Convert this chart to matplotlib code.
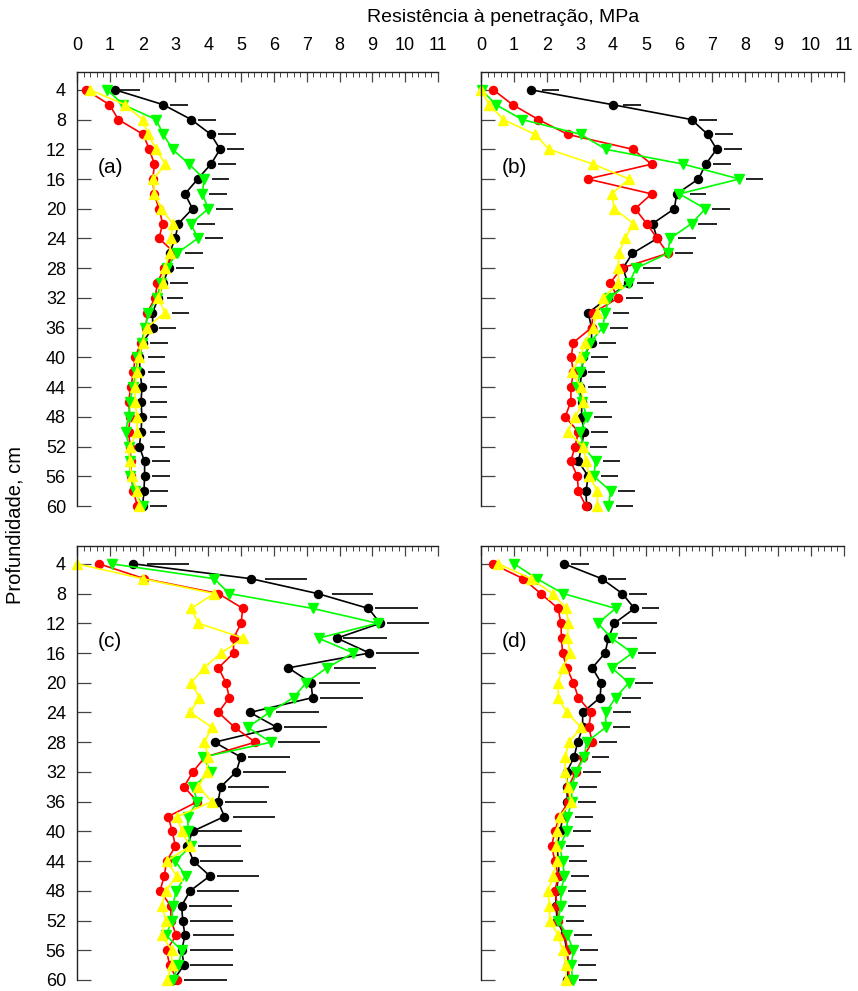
import numpy as np
import matplotlib
matplotlib.use("Agg")
import matplotlib.pyplot as plt
from matplotlib.ticker import MultipleLocator

plt.rcParams['font.family'] = ['Liberation Sans', 'DejaVu Sans']

depths = [4, 6, 8, 10, 12, 14, 16, 18, 20, 22, 24, 26, 28, 30, 32,
          34, 36, 38, 40, 42, 44, 46, 48, 50, 52, 54, 56, 58, 60]
xticks = [0, 1, 2, 3, 4, 5, 6, 7, 8, 9, 10, 11]
yticks = [4, 8, 12, 16, 20, 24, 28, 32, 36, 40, 44, 48, 52, 56, 60]
title = "Resistência à penetração, MPa"
ylabel = "Profundidade, cm"
panel_labels = ["(a)", "(b)", "(c)", "(d)"]

# ---- panel (a)
a_black = [1.16, 2.63, 3.48, 4.08, 4.36, 4.08, 3.68, 3.29, 3.52, 3.09, 2.99, 2.82, 2.80, 2.62, 2.48,
           2.30, 2.31, 2.00, 1.90, 1.92, 1.98, 1.95, 1.98, 1.95, 1.90, 2.06, 2.06, 2.04, 2.00]
a_red = [0.27, 0.99, 1.26, 2.02, 2.20, 2.36, 2.31, 2.35, 2.50, 2.61, 2.50, 2.99, 2.65, 2.45, 2.38,
         2.14, 2.10, 1.95, 1.77, 1.72, 1.64, 1.57, 1.62, 1.57, 1.62, 1.64, 1.65, 1.72, 1.84]
a_yellow = [0.40, 1.46, 2.00, 2.17, 2.41, 2.69, 2.33, 2.36, 2.56, 2.92, 2.87, 2.82, 2.68, 2.61, 2.48,
            2.68, 2.12, 2.00, 1.89, 1.82, 1.77, 1.77, 1.82, 1.84, 1.60, 1.60, 1.67, 1.84, 1.90]
a_green = [0.92, 1.41, 2.41, 2.63, 2.91, 3.42, 3.87, 3.82, 4.00, 3.47, 3.68, 3.04, 2.73, 2.55, 2.43,
           2.17, 2.08, 1.97, 1.84, 1.80, 1.70, 1.62, 1.57, 1.48, 1.59, 1.61, 1.63, 1.76, 2.00]
a_bar_lo = [1.31, 2.84, 3.70, 4.31, 4.56, 4.31, 4.11, 4.02, 4.23, 3.67, 3.90, 3.29, 3.02, 2.84, 2.73,
            2.90, 2.49, 2.23, 2.17, 2.17, 2.21, 2.21, 2.21, 2.21, 2.21, 2.29, 2.29, 2.23, 2.21]
a_bar_hi = [1.92, 3.39, 4.24, 4.84, 5.10, 4.84, 4.64, 4.56, 4.75, 4.21, 4.44, 3.83, 3.55, 3.37, 3.24,
            3.42, 3.02, 2.76, 2.69, 2.69, 2.73, 2.73, 2.73, 2.69, 2.69, 2.82, 2.82, 2.78, 2.73]

# ---- panel (b)
b_black = [1.52, 3.99, 6.38, 6.87, 7.14, 6.81, 6.59, 5.93, 5.86, 5.20, 5.34, 4.59, 4.30, 4.45, 3.85,
           3.25, 3.35, 3.35, 3.10, 3.05, 3.00, 3.05, 3.05, 3.12, 3.05, 2.95, 3.25, 3.18, 3.20]
b_red = [0.37, 0.96, 1.74, 2.63, 4.60, 5.17, 3.23, 5.17, 4.67, 5.02, 5.34, 5.66, 4.26, 3.91, 4.16,
         3.40, 3.35, 2.80, 2.73, 2.80, 2.73, 2.72, 2.55, 2.95, 2.85, 2.72, 2.92, 2.95, 3.18]
b_yellow = [0.00, 0.25, 0.68, 1.64, 2.06, 3.40, 4.49, 3.96, 4.04, 4.62, 4.36, 4.18, 4.16, 4.16, 3.71,
            3.50, 3.40, 3.15, 3.00, 2.75, 3.03, 3.10, 2.85, 2.63, 3.10, 3.18, 3.28, 3.53, 3.53]
b_green = [0.02, 0.45, 1.25, 3.03, 3.78, 6.13, 7.83, 6.01, 6.80, 6.38, 5.73, 5.66, 4.70, 4.49, 3.88,
           3.76, 3.69, 3.30, 3.12, 3.00, 2.92, 3.05, 3.22, 3.00, 3.10, 3.47, 3.42, 3.93, 3.86]
b_bar_lo = [1.84, 4.31, 6.62, 7.09, 7.37, 7.04, 8.03, 6.33, 7.01, 6.59, 5.98, 5.88, 4.92, 4.72, 4.39,
            3.99, 3.91, 3.58, 3.33, 3.23, 3.25, 3.30, 3.43, 3.33, 3.30, 3.69, 3.64, 4.14, 4.08]
b_bar_hi = [2.37, 4.85, 7.14, 7.63, 7.91, 7.58, 8.56, 6.81, 7.55, 7.14, 6.52, 6.41, 5.45, 5.25, 4.92,
            4.49, 4.44, 4.09, 3.86, 3.76, 3.78, 3.83, 3.96, 3.86, 3.83, 4.21, 4.16, 4.67, 4.62]

# ---- panel (c)
c_black = [1.72, 5.30, 7.33, 8.88, 9.24, 7.92, 8.91, 6.44, 7.13, 7.18, 5.27, 6.09, 4.19, 4.99, 4.85,
           4.38, 4.30, 4.49, 3.52, 3.36, 3.55, 4.05, 3.45, 3.19, 3.22, 3.29, 3.19, 3.26, 2.94]
c_red = [0.67, 2.05, 4.31, 5.05, 5.00, 4.77, 4.77, 4.31, 4.54, 4.64, 4.31, 4.80, 5.43, 3.90, 3.53,
         3.26, 3.67, 2.78, 2.90, 3.00, 2.73, 2.66, 2.53, 2.85, 2.87, 3.02, 2.73, 2.82, 3.06]
c_yellow = [0.00, 2.00, 4.18, 3.48, 3.70, 5.07, 4.39, 3.87, 3.48, 3.73, 3.45, 4.11, 3.88, 4.00, 3.95,
            3.70, 4.11, 3.06, 3.19, 3.44, 2.73, 3.04, 2.71, 2.58, 2.71, 2.58, 2.89, 2.89, 2.75]
c_green = [1.06, 4.18, 4.64, 7.18, 9.16, 7.36, 8.42, 7.61, 6.98, 6.60, 5.86, 5.20, 5.91, 3.85, 4.08,
           3.53, 3.67, 3.37, 3.39, 3.47, 3.00, 3.31, 3.02, 2.92, 2.89, 2.71, 3.19, 3.09, 2.92]
c_bar_lo = [2.14, 5.73, 7.76, 9.09, 9.46, 8.12, 9.12, 7.82, 7.36, 7.41, 6.07, 6.32, 6.12, 5.22, 5.07,
            4.59, 4.51, 4.74, 3.70, 3.70, 3.75, 4.26, 3.65, 3.41, 3.44, 3.52, 3.44, 3.44, 3.26]
c_bar_hi = [3.42, 7.02, 9.03, 10.38, 10.73, 9.44, 10.41, 9.12, 8.63, 8.70, 7.36, 7.61, 7.41, 6.49, 6.36,
            5.86, 5.78, 6.02, 5.02, 4.99, 5.05, 5.55, 4.94, 4.71, 4.74, 4.79, 4.74, 4.74, 4.56]

# ---- panel (d)
d_black = [2.52, 3.66, 4.28, 4.65, 4.04, 3.86, 3.76, 3.37, 3.64, 3.61, 3.08, 3.08, 2.93, 2.82, 2.60,
           2.60, 2.62, 2.49, 2.39, 2.31, 2.34, 2.37, 2.27, 2.27, 2.31, 2.52, 2.60, 2.65, 2.62]
d_red = [0.35, 1.28, 1.81, 2.34, 2.42, 2.44, 2.47, 2.60, 2.80, 2.95, 3.33, 3.27, 3.37, 3.10, 2.87,
         2.65, 2.65, 2.37, 2.24, 2.14, 2.24, 2.34, 2.24, 2.31, 2.34, 2.55, 2.62, 2.65, 2.67]
d_yellow = [0.53, 1.51, 2.17, 2.58, 2.65, 2.62, 2.70, 2.47, 2.34, 2.34, 2.60, 3.03, 2.67, 2.55, 2.55,
            2.63, 2.73, 2.39, 2.31, 2.27, 2.29, 2.19, 2.04, 2.07, 2.09, 2.34, 2.47, 2.58, 2.58]
d_green = [1.01, 1.69, 2.49, 4.08, 3.54, 3.96, 4.59, 3.96, 4.48, 4.08, 3.78, 3.78, 3.20, 3.13, 2.88,
           2.75, 2.75, 2.62, 2.60, 2.39, 2.47, 2.53, 2.42, 2.42, 2.34, 2.62, 2.80, 2.73, 2.78]
d_bar_lo = [2.73, 3.86, 4.49, 4.88, 4.27, 4.16, 4.77, 4.16, 4.67, 4.28, 3.99, 3.99, 3.58, 3.35, 3.10,
            2.97, 2.95, 2.85, 2.80, 2.58, 2.68, 2.73, 2.63, 2.63, 2.58, 2.83, 3.00, 2.93, 2.98]
d_bar_hi = [3.27, 4.39, 5.02, 5.39, 5.33, 4.72, 5.30, 4.70, 5.20, 4.84, 4.55, 4.52, 4.11, 3.89, 3.64,
            3.50, 3.48, 3.38, 3.33, 3.12, 3.21, 3.27, 3.17, 3.17, 3.12, 3.37, 3.54, 3.47, 3.52]

panels = [
    (a_black, a_red, a_green, a_yellow, a_bar_lo, a_bar_hi),
    (b_black, b_red, b_green, b_yellow, b_bar_lo, b_bar_hi),
    (c_black, c_red, c_green, c_yellow, c_bar_lo, c_bar_hi),
    (d_black, d_red, d_green, d_yellow, d_bar_lo, d_bar_hi),
]

W, H = 858, 991
fig = plt.figure(figsize=(W / 100, H / 100), dpi=100)

# axes boxes in pixels: left, right, top, bottom
boxes = [(77, 438, 72, 506), (481, 844, 72, 506),
         (77, 438, 546, 980), (481, 844, 546, 980)]

styles = [
    dict(color='black', marker='o', ms=5.8),
    dict(color='#ff0000', marker='o', ms=5.8),
    dict(color='#00ff00', marker='v', ms=6.8),
    dict(color='#ffff00', marker='^', ms=6.8),
]

for i, (box, data) in enumerate(zip(boxes, panels)):
    l, r, t, b = box
    ax = fig.add_axes([l / W, 1 - b / H, (r - l) / W, (b - t) / H])
    ax.set_xlim(0, 11)
    ax.set_ylim(60, 1.6)
    for spine in ['right', 'bottom']:
        ax.spines[spine].set_visible(False)
    for spine in ['left', 'top']:
        ax.spines[spine].set_linewidth(1.0)
        ax.spines[spine].set_color('#222222')
    ax.xaxis.set_ticks_position('top')
    ax.set_xticks(xticks)
    ax.xaxis.set_minor_locator(MultipleLocator(0.2))
    ax.set_yticks(yticks)
    ax.tick_params(axis='x', which='major', direction='in', length=7, width=0.9,
                   color='#444444', labelsize=13, pad=13,
                   labeltop=(i < 2), labelbottom=False)
    ax.tick_params(axis='x', which='minor', direction='in', length=3.5, width=0.7,
                   color='#444444', top=True, bottom=False)
    ax.tick_params(axis='y', which='major', direction='in', length=10, width=0.9,
                   color='#444444', labelsize=13, pad=8, labelleft=(i % 2 == 0),
                   right=False)

    blk, red, grn, yel, lo, hi = data
    for lo_v, hi_v, dep in zip(lo, hi, depths):
        ax.plot([lo_v, hi_v], [dep, dep], color='#222222', lw=1.4, clip_on=False,
                solid_capstyle='butt')
    for series, st in zip([blk, red, grn, yel], styles):
        ax.plot(series, depths, color=st['color'], marker=st['marker'], ms=st['ms'],
                mec=st['color'], mfc=st['color'], lw=1.2, clip_on=False)
    ax.text(0.62, 14.5, panel_labels[i], fontsize=15, ha='left', va='center')

fig.text(503 / W, 1 - 18 / H, title, ha='center', va='center', fontsize=14)
fig.text(15 / W, 1 - 525 / H, ylabel, ha='center', va='center', rotation=90, fontsize=14.5)

fig.savefig('out.png', dpi=100)
